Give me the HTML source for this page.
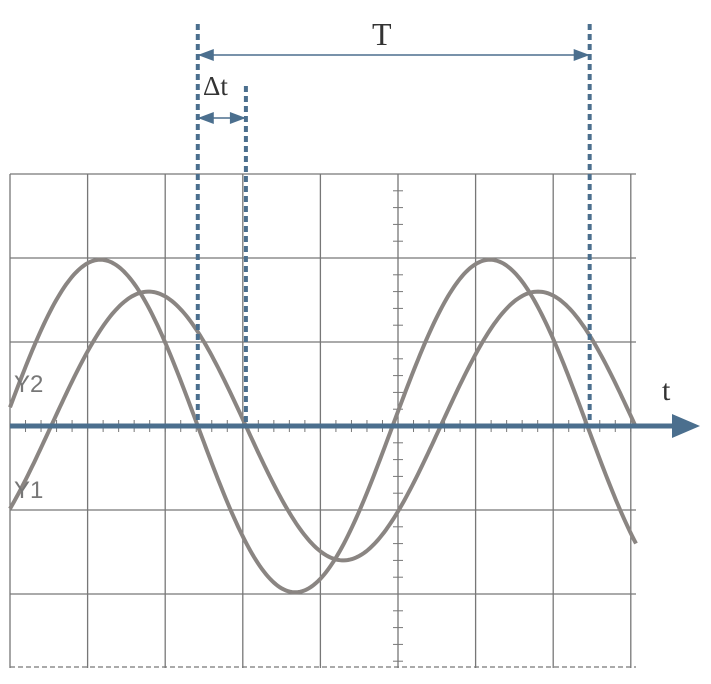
<!DOCTYPE html>
<html><head><meta charset="utf-8"><style>
body{margin:0;background:#fff}
svg{display:block}
</style></head><body>
<svg id="chart" width="711" height="684" viewBox="0 0 711 684" xmlns="http://www.w3.org/2000/svg">
<g id="grid"></g>
<g id="waves"></g>
<g id="annot"></g>
</svg>
<script>
const seriesNames = ["Y2", "Y1"];
const amplitudes = [1.98, 1.6];
const zeroCrossDesc = [2.42, 3.04];
const periodDiv = 5.02;
const markerX = [2.42, 3.04, 7.47];

const NS="http://www.w3.org/2000/svg";
const x0=10, dx=77.6, y0=426, dy=84;
const X=d=>x0+d*dx, Y=v=>y0-v*dy;
function el(t,a,p){const e=document.createElementNS(NS,t);for(const k in a)e.setAttribute(k,a[k]);p.appendChild(e);return e;}
const grid=document.getElementById('grid'), waves=document.getElementById('waves'), an=document.getElementById('annot');
const gc="#777";
for(let i=0;i<=8;i++){const l=el('line',{x1:X(i),x2:X(i),y1:174,y2:668,stroke:gc,'stroke-width':1.3},grid);

}
for(let j=-3;j<=3;j++){const yy=Y(j); if(yy<170)continue; if(yy>660)continue;
const l=el('line',{x1:10,x2:636,y1:yy,y2:yy,stroke:gc,'stroke-width':1.3},grid);

}
const b=el('line',{x1:10,x2:636,y1:667,y2:667,stroke:gc,'stroke-width':1.3,'stroke-dasharray':'5 3'},grid);


for(let k=-14;k<=14;k++){const yy=y0+k*dy/5; if(yy<176||yy>665)continue;
el('line',{x1:X(5)-5,x2:X(5)+5,y1:yy,y2:yy,stroke:gc,'stroke-width':1},grid);}
for(let k=0;k<=40;k++){const xx=X(k/5); if(xx>636)continue;
el('line',{x1:xx,x2:xx,y1:y0-6,y2:y0+6,stroke:gc,'stroke-width':1},grid);}
seriesNames.forEach((n,i)=>{let d='';
for(let px=10;px<=636;px+=2){const dv=(px-x0)/dx;const v=-amplitudes[i]*Math.sin(2*Math.PI*(dv-zeroCrossDesc[i])/periodDiv);
d+=(px===10?'M':'L')+px+','+Y(v).toFixed(1);}
const p=el('path',{d:d,fill:'none',stroke:'#8a8582','stroke-width':4},waves);

});
const lab=[["Y2",14,392],["Y1",14,498]];
lab.forEach(l=>{const t=el('text',{x:l[1],y:l[2],'font-family':'Liberation Sans, sans-serif','font-size':24,fill:'#777'},waves);t.textContent=l[0];

});
const blue="#4b6f8e";
const ax=el('line',{x1:10,x2:676,y1:y0,y2:y0,stroke:blue,'stroke-width':5},an);


el('polygon',{points:'672,414 700,426 672,438',fill:blue},an);
const tt=el('text',{x:662,y:400,'font-family':'Liberation Serif, serif','font-size':30,fill:'#333'},an);tt.textContent='t';


markerX.forEach((m,i)=>{const l=el('line',{x1:X(m),x2:X(m),y1:i===1?86:24,y2:y0,stroke:blue,'stroke-width':4,'stroke-dasharray':'6 4'},an);

});
function arrow(xa,xb,y,name){const g=el('g',{},an);


el('line',{x1:xa,x2:xb,y1:y,y2:y,stroke:blue,'stroke-width':1.5},g);
el('polygon',{points:`${xa},${y} ${xa+16},${y-6} ${xa+16},${y+6}`,fill:blue},g);
el('polygon',{points:`${xb},${y} ${xb-16},${y-6} ${xb-16},${y+6}`,fill:blue},g);}
arrow(X(markerX[0]),X(markerX[2]),55,'period-arrow');
arrow(X(markerX[0]),X(markerX[1]),118,'delta-t-arrow');
const T=el('text',{x:372,y:45,'font-family':'Liberation Serif, serif','font-size':32,fill:'#333'},an);T.textContent='T';


const D=el('text',{x:203,y:95,'font-family':'Liberation Serif, serif','font-size':27,fill:'#333'},an);D.textContent='Δt';


</script>
</body></html>
